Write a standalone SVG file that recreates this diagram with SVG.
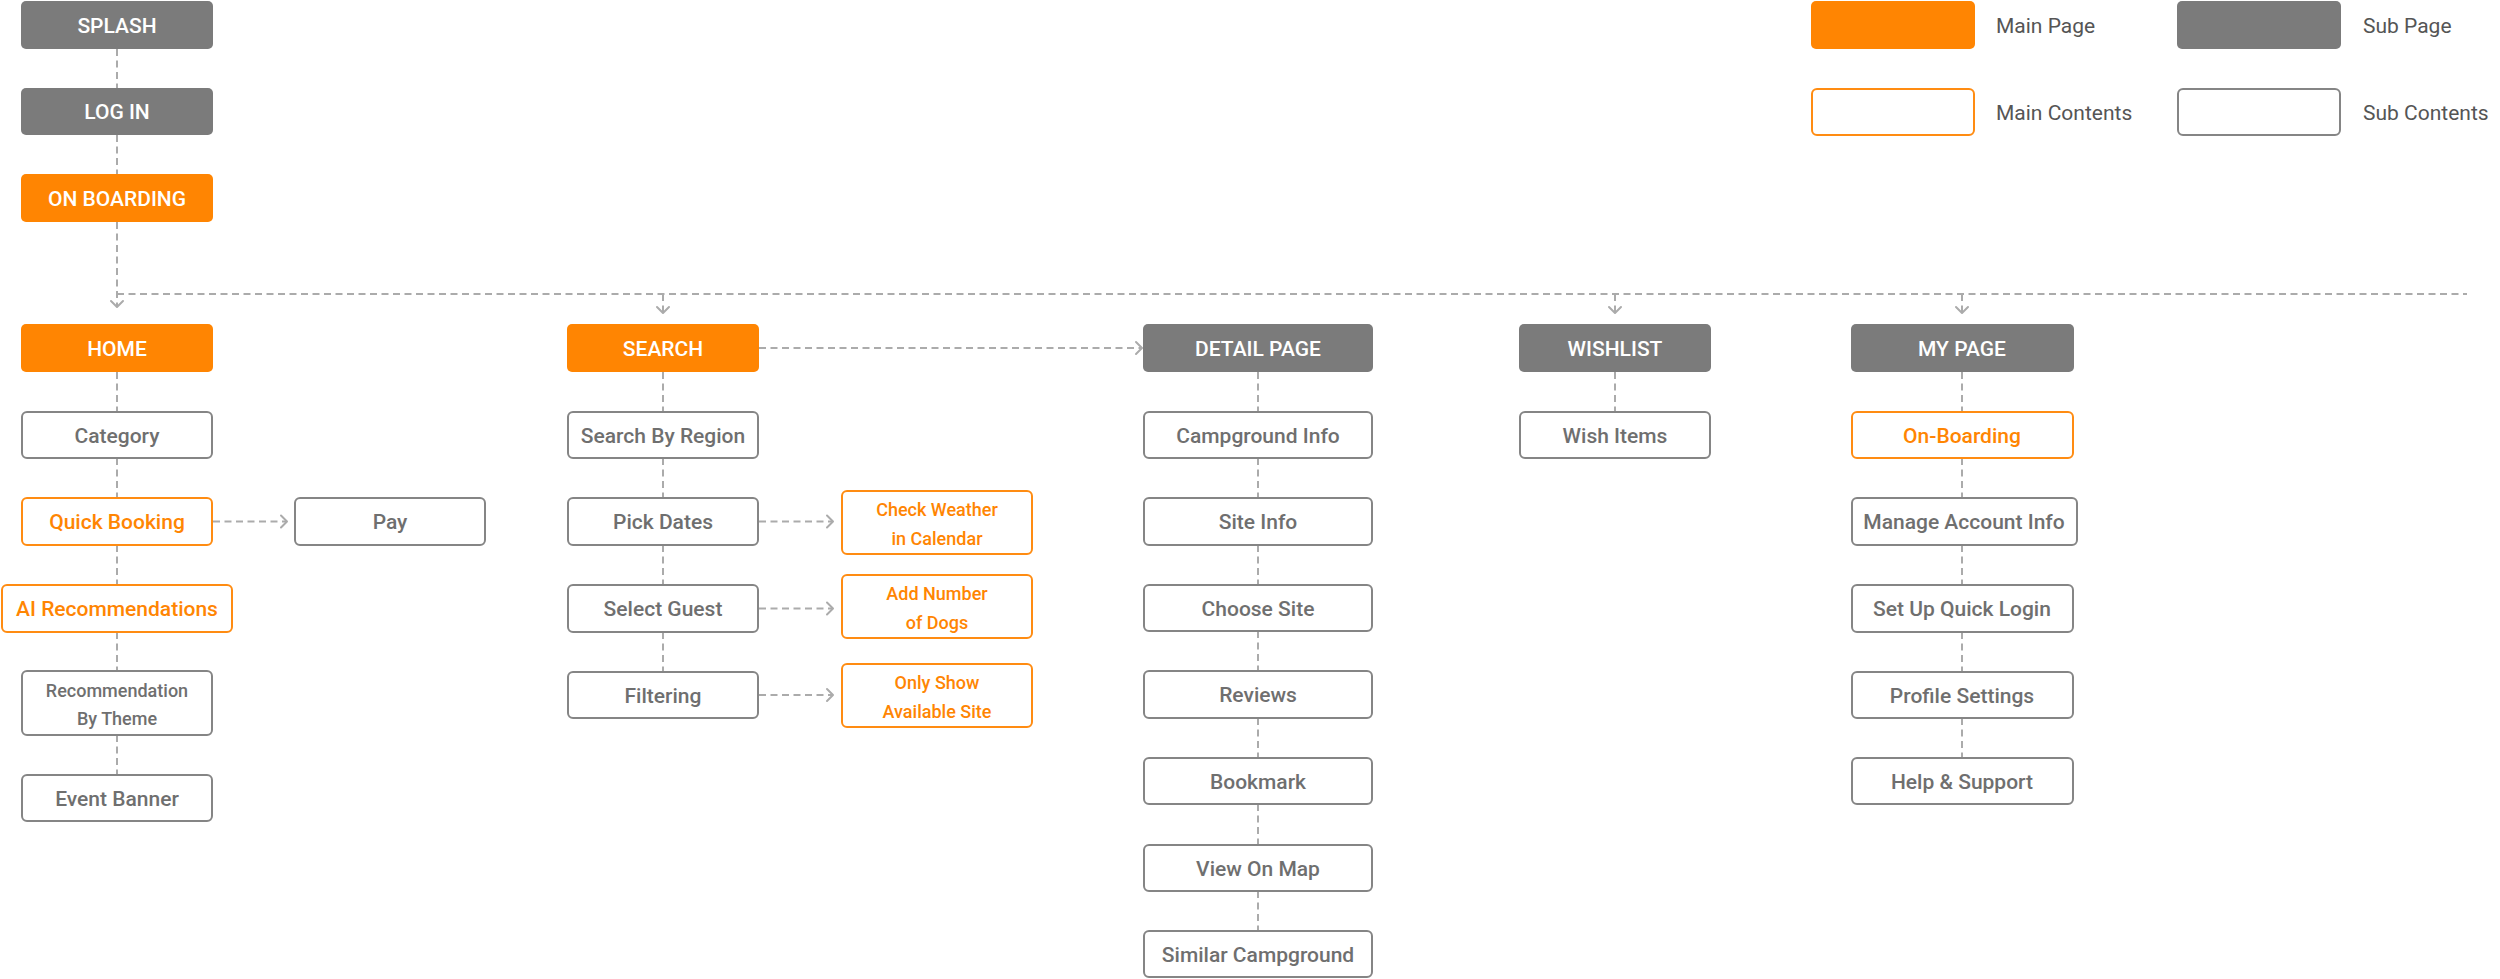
<svg xmlns="http://www.w3.org/2000/svg" width="2500" height="979" viewBox="0 0 2500 979">
<defs>
<style>
.mp{fill:#FF8502;}
.sp{fill:#7B7B7B;}
.mc{fill:#fff;stroke:#FF8C12;stroke-width:2;}
.sc{fill:#fff;stroke:#858585;stroke-width:2;}
.t{font-family:Roboto,"Liberation Sans",sans-serif;font-weight:500;font-size:21px;text-anchor:middle;}
.tw{fill:#fff;}
.tg{fill:#6F6F6F;}
.to{fill:#FF8502;}
.ts{font-size:18px;}
.lg{font-family:Roboto,"Liberation Sans",sans-serif;font-weight:400;font-size:21px;fill:#555;}
.c{fill:none;stroke:#ABABAB;stroke-width:2;stroke-dasharray:7 4.5;}
.ah{fill:none;stroke:#ABABAB;stroke-width:2;stroke-linecap:round;stroke-linejoin:round;}
</style>
<marker id="arr" viewBox="-8 -8 16 16" markerWidth="16" markerHeight="16" markerUnits="userSpaceOnUse" refX="0" refY="0" orient="auto">
<path d="M-6,-6 L0,0 L-6,6" fill="none" stroke="#ABABAB" stroke-width="2" stroke-linecap="round" stroke-linejoin="round"/>
</marker>
</defs>
<rect width="2500" height="979" fill="#fff"/>

<g id="connectors">
<!-- main flow -->
<line class="c" x1="117" y1="49" x2="117" y2="88"/>
<line class="c" x1="117" y1="135" x2="117" y2="174"/>
<line class="c" x1="117" y1="222" x2="117" y2="307" marker-end="url(#arr)"/>
<line class="c" x1="117" y1="294" x2="2467" y2="294"/>
<line class="c" x1="663" y1="294" x2="663" y2="313" marker-end="url(#arr)"/>
<line class="c" x1="1615" y1="294" x2="1615" y2="313" marker-end="url(#arr)"/>
<line class="c" x1="1962" y1="294" x2="1962" y2="313" marker-end="url(#arr)"/>
<!-- home column -->
<line class="c" x1="117" y1="372" x2="117" y2="412"/>
<line class="c" x1="117" y1="458" x2="117" y2="498"/>
<line class="c" x1="117" y1="545" x2="117" y2="585"/>
<line class="c" x1="117" y1="632" x2="117" y2="671"/>
<line class="c" x1="117" y1="735" x2="117" y2="775"/>
<line class="c" x1="213" y1="521.5" x2="287" y2="521.5" marker-end="url(#arr)"/>
<!-- search column -->
<line class="c" x1="663" y1="372" x2="663" y2="412"/>
<line class="c" x1="663" y1="458" x2="663" y2="498"/>
<line class="c" x1="663" y1="545" x2="663" y2="585"/>
<line class="c" x1="663" y1="632" x2="663" y2="672"/>
<line class="c" x1="759" y1="521.5" x2="833" y2="521.5" marker-end="url(#arr)"/>
<line class="c" x1="759" y1="608.5" x2="833" y2="608.5" marker-end="url(#arr)"/>
<line class="c" x1="759" y1="695" x2="833" y2="695" marker-end="url(#arr)"/>
<line class="c" x1="759" y1="348" x2="1142" y2="348" marker-end="url(#arr)"/>
<!-- detail column -->
<line class="c" x1="1258" y1="372" x2="1258" y2="412"/>
<line class="c" x1="1258" y1="458" x2="1258" y2="498"/>
<line class="c" x1="1258" y1="545" x2="1258" y2="585"/>
<line class="c" x1="1258" y1="631" x2="1258" y2="671"/>
<line class="c" x1="1258" y1="718" x2="1258" y2="758"/>
<line class="c" x1="1258" y1="804" x2="1258" y2="845"/>
<line class="c" x1="1258" y1="891" x2="1258" y2="931"/>
<!-- wishlist -->
<line class="c" x1="1615" y1="372" x2="1615" y2="412"/>
<!-- my page -->
<line class="c" x1="1962" y1="372" x2="1962" y2="412"/>
<line class="c" x1="1962" y1="458" x2="1962" y2="498"/>
<line class="c" x1="1962" y1="545" x2="1962" y2="585"/>
<line class="c" x1="1962" y1="632" x2="1962" y2="672"/>
<line class="c" x1="1962" y1="718" x2="1962" y2="758"/>
</g>

<!-- legend -->
<g id="legend-main-page"><rect class="mp" x="1811" y="1" width="164" height="48" rx="5"/><text class="lg" x="1996" y="33">Main Page</text></g>
<g id="legend-sub-page"><rect class="sp" x="2177" y="1" width="164" height="48" rx="5"/><text class="lg" x="2363" y="33">Sub Page</text></g>
<g id="legend-main-contents"><rect class="mc" x="1812" y="89" width="162" height="46" rx="5"/><text class="lg" x="1996" y="120">Main Contents</text></g>
<g id="legend-sub-contents"><rect class="sc" x="2178" y="89" width="162" height="46" rx="5"/><text class="lg" x="2363" y="120">Sub Contents</text></g>

<!-- home column -->
<g id="splash"><rect class="sp" x="21" y="1" width="192" height="48" rx="5"/><text class="t tw" x="117" y="33">SPLASH</text></g>
<g id="login"><rect class="sp" x="21" y="88" width="192" height="47" rx="5"/><text class="t tw" x="117" y="119">LOG IN</text></g>
<g id="onboarding"><rect class="mp" x="21" y="174" width="192" height="48" rx="5"/><text class="t tw" x="117" y="206">ON BOARDING</text></g>
<g id="home"><rect class="mp" x="21" y="324" width="192" height="48" rx="5"/><text class="t tw" x="117" y="356">HOME</text></g>
<g id="category"><rect class="sc" x="22" y="412" width="190" height="46" rx="5"/><text class="t tg" x="117" y="443">Category</text></g>
<g id="quick-booking"><rect class="mc" x="22" y="498" width="190" height="47" rx="5"/><text class="t to" x="117" y="529">Quick Booking</text></g>
<g id="pay"><rect class="sc" x="295" y="498" width="190" height="47" rx="5"/><text class="t tg" x="390" y="529">Pay</text></g>
<g id="ai-recommendations"><rect class="mc" x="2" y="585" width="230" height="47" rx="5"/><text class="t to" x="117" y="616">AI Recommendations</text></g>
<g id="recommendation-by-theme"><rect class="sc" x="22" y="671" width="190" height="64" rx="5"/><text class="t tg ts" x="117" y="697">Recommendation</text><text class="t tg ts" x="117" y="725">By Theme</text></g>
<g id="event-banner"><rect class="sc" x="22" y="775" width="190" height="46" rx="5"/><text class="t tg" x="117" y="806">Event Banner</text></g>

<!-- search column -->
<g id="search"><rect class="mp" x="567" y="324" width="192" height="48" rx="5"/><text class="t tw" x="663" y="356">SEARCH</text></g>
<g id="search-by-region"><rect class="sc" x="568" y="412" width="190" height="46" rx="5"/><text class="t tg" x="663" y="443">Search By Region</text></g>
<g id="pick-dates"><rect class="sc" x="568" y="498" width="190" height="47" rx="5"/><text class="t tg" x="663" y="529">Pick Dates</text></g>
<g id="select-guest"><rect class="sc" x="568" y="585" width="190" height="47" rx="5"/><text class="t tg" x="663" y="616">Select Guest</text></g>
<g id="filtering"><rect class="sc" x="568" y="672" width="190" height="46" rx="5"/><text class="t tg" x="663" y="703">Filtering</text></g>
<g id="check-weather"><rect class="mc" x="842" y="491" width="190" height="63" rx="5"/><text class="t to ts" x="937" y="516">Check Weather</text><text class="t to ts" x="937" y="545">in Calendar</text></g>
<g id="add-number-of-dogs"><rect class="mc" x="842" y="575" width="190" height="63" rx="5"/><text class="t to ts" x="937" y="600">Add Number</text><text class="t to ts" x="937" y="629">of Dogs</text></g>
<g id="only-show-available-site"><rect class="mc" x="842" y="664" width="190" height="63" rx="5"/><text class="t to ts" x="937" y="689">Only Show</text><text class="t to ts" x="937" y="718">Available Site</text></g>

<!-- detail column -->
<g id="detail-page"><rect class="sp" x="1143" y="324" width="230" height="48" rx="5"/><text class="t tw" x="1258" y="356">DETAIL PAGE</text></g>
<g id="campground-info"><rect class="sc" x="1144" y="412" width="228" height="46" rx="5"/><text class="t tg" x="1258" y="443">Campground Info</text></g>
<g id="site-info"><rect class="sc" x="1144" y="498" width="228" height="47" rx="5"/><text class="t tg" x="1258" y="529">Site Info</text></g>
<g id="choose-site"><rect class="sc" x="1144" y="585" width="228" height="46" rx="5"/><text class="t tg" x="1258" y="616">Choose Site</text></g>
<g id="reviews"><rect class="sc" x="1144" y="671" width="228" height="47" rx="5"/><text class="t tg" x="1258" y="702">Reviews</text></g>
<g id="bookmark"><rect class="sc" x="1144" y="758" width="228" height="46" rx="5"/><text class="t tg" x="1258" y="789">Bookmark</text></g>
<g id="view-on-map"><rect class="sc" x="1144" y="845" width="228" height="46" rx="5"/><text class="t tg" x="1258" y="876">View On Map</text></g>
<g id="similar-campground"><rect class="sc" x="1144" y="931" width="228" height="46" rx="5"/><text class="t tg" x="1258" y="962">Similar Campground</text></g>

<!-- wishlist -->
<g id="wishlist"><rect class="sp" x="1519" y="324" width="192" height="48" rx="5"/><text class="t tw" x="1615" y="356">WISHLIST</text></g>
<g id="wish-items"><rect class="sc" x="1520" y="412" width="190" height="46" rx="5"/><text class="t tg" x="1615" y="443">Wish Items</text></g>

<!-- my page -->
<g id="my-page"><rect class="sp" x="1851" y="324" width="223" height="48" rx="5"/><text class="t tw" x="1962" y="356">MY PAGE</text></g>
<g id="on-boarding-content"><rect class="mc" x="1852" y="412" width="221" height="46" rx="5"/><text class="t to" x="1962" y="443">On-Boarding</text></g>
<g id="manage-account-info"><rect class="sc" x="1852" y="498" width="225" height="47" rx="5"/><text class="t tg" x="1964" y="529">Manage Account Info</text></g>
<g id="set-up-quick-login"><rect class="sc" x="1852" y="585" width="221" height="47" rx="5"/><text class="t tg" x="1962" y="616">Set Up Quick Login</text></g>
<g id="profile-settings"><rect class="sc" x="1852" y="672" width="221" height="46" rx="5"/><text class="t tg" x="1962" y="703">Profile Settings</text></g>
<g id="help-support"><rect class="sc" x="1852" y="758" width="221" height="46" rx="5"/><text class="t tg" x="1962" y="789">Help &amp; Support</text></g>
</svg>
